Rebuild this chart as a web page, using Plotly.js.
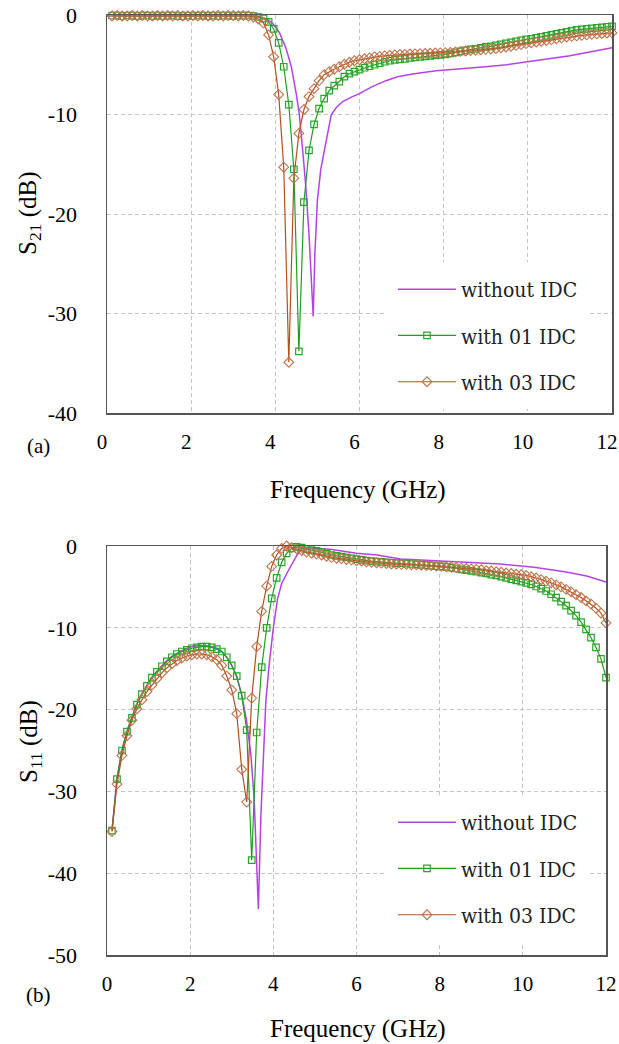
<!DOCTYPE html>
<html>
<head>
<meta charset="utf-8">
<script src="https://cdn.plot.ly/plotly-3.0.1.min.js"></script>
<style>html,body{margin:0;padding:0;background:#fff;}#chart{width:619px;height:1044px;}</style>
</head>
<body>
<div id="chart"></div>
<script>
// ---------- DATA ----------
const seriesNames = ["without IDC", "with 01 IDC", "with 03 IDC"];

const freq = [0.12,0.24,0.36,0.48,0.60,0.72,0.84,0.96,1.08,1.20,
  1.32,1.44,1.56,1.68,1.80,1.92,2.04,2.16,2.28,2.40,
  2.52,2.64,2.76,2.88,3.00,3.12,3.24,3.36,3.48,3.60,
  3.72,3.84,3.96,4.08,4.20,4.32,4.44,4.56,4.68,4.80,
  4.92,5.04,5.16,5.28,5.40,5.52,5.64,5.76,5.88,6.00,
  6.12,6.24,6.36,6.48,6.60,6.72,6.84,6.96,7.08,7.20,
  7.32,7.44,7.56,7.68,7.80,7.92,8.04,8.16,8.28,8.40,
  8.52,8.64,8.76,8.88,9.00,9.12,9.24,9.36,9.48,9.60,
  9.72,9.84,9.96,10.08,10.20,10.32,10.44,10.56,10.68,10.80,
  10.92,11.04,11.16,11.28,11.40,11.52,11.64,11.76,11.88,12.00];

// S21 (top)
const s21FreqNoIdc = [0,0.5,1.0,1.5,2.0,2.5,3.0,3.4,3.6,3.8,3.95,4.1,4.25,4.38,4.5,4.57,4.65,4.72,4.8,4.86,4.9,4.94,5.0,5.08,5.17,5.25,5.33,5.45,5.6,5.83,6.0,6.3,6.63,6.9,7.3,7.82,8.5,9.0,9.5,10.0,10.5,11.0,11.5,12.0];
const s21NoIdc = [-0.1,-0.1,-0.1,-0.05,-0.1,-0.05,-0.05,-0.05,-0.15,-0.4,-0.9,-1.8,-3.3,-5.2,-8.0,-10.0,-13.6,-17.0,-22.0,-26.5,-30.3,-24.0,-18.6,-15.5,-13.5,-11.6,-10.0,-9.3,-8.7,-8.2,-7.9,-7.2,-6.6,-6.2,-5.9,-5.6,-5.4,-5.2,-5.0,-4.7,-4.4,-4.1,-3.7,-3.3];
const s21Idc01 = [-0.05,-0.05,-0.1,-0.05,-0.05,-0.1,-0.05,-0.05,-0.1,-0.05,
  -0.1,-0.05,-0.05,-0.1,-0.1,-0.05,-0.1,-0.05,-0.05,-0.1,
  -0.05,-0.1,-0.05,-0.05,-0.1,-0.05,-0.05,-0.05,-0.1,-0.2,
  -0.35,-0.7,-1.4,-2.8,-5.2,-9.0,-15.5,-33.8,-18.8,-13.6,
  -11.0,-9.4,-8.4,-7.6,-7.1,-6.7,-6.2,-5.9,-5.7,-5.5,
  -5.3,-5.15,-5.0,-4.85,-4.7,-4.6,-4.5,-4.45,-4.4,-4.3,
  -4.25,-4.2,-4.15,-4.1,-4.05,-4.0,-3.95,-3.85,-3.75,-3.65,
  -3.55,-3.45,-3.4,-3.3,-3.2,-3.15,-3.05,-2.95,-2.85,-2.75,
  -2.65,-2.55,-2.45,-2.4,-2.3,-2.2,-2.1,-2.0,-1.9,-1.8,
  -1.7,-1.6,-1.5,-1.45,-1.4,-1.35,-1.3,-1.25,-1.2,-1.15];
const s21Idc03 = [-0.1,-0.05,-0.1,-0.1,-0.05,-0.1,-0.05,-0.1,-0.1,-0.05,
  -0.1,-0.05,-0.1,-0.05,-0.1,-0.1,-0.05,-0.1,-0.05,-0.1,
  -0.1,-0.05,-0.1,-0.05,-0.05,-0.1,-0.05,-0.1,-0.2,-0.4,
  -0.8,-2.0,-4.2,-8.0,-15.3,-34.9,-16.4,-11.9,-9.5,-8.2,
  -7.4,-6.6,-6.0,-5.7,-5.45,-5.2,-4.95,-4.75,-4.6,-4.5,
  -4.4,-4.3,-4.2,-4.15,-4.1,-4.05,-4.0,-3.97,-3.95,-3.92,
  -3.9,-3.88,-3.86,-3.84,-3.82,-3.8,-3.78,-3.75,-3.7,-3.66,
  -3.62,-3.58,-3.54,-3.5,-3.46,-3.42,-3.38,-3.3,-3.22,-3.14,
  -3.06,-2.98,-2.88,-2.8,-2.72,-2.64,-2.56,-2.48,-2.4,-2.3,
  -2.22,-2.15,-2.1,-2.05,-2.0,-1.95,-1.9,-1.86,-1.82,-1.8];

// S11 (bottom)
const s11FreqNoIdc = [0.12,0.24,0.36,0.48,0.60,0.72,0.84,0.96,1.08,1.20,1.32,1.44,1.56,1.68,1.80,1.92,2.04,2.16,2.28,2.40,2.52,2.64,2.76,2.88,3.00,3.12,3.24,3.36,3.46,3.54,3.60,3.64,3.70,3.76,3.82,3.90,4.00,4.10,4.20,4.33,4.45,4.57,4.69,4.80,5.00,5.37,6.00,6.50,7.06,7.86,8.67,9.47,10.27,11.08,11.56,12.00];
const s11NoIdc = [-34.8,-28.4,-24.9,-22.6,-20.9,-19.3,-18.0,-17.0,-16.0,-15.3,-14.6,-14.0,-13.5,-13.1,-12.8,-12.5,-12.3,-12.2,-12.15,-12.2,-12.3,-12.5,-12.9,-13.6,-14.6,-16.0,-18.2,-21.5,-25.5,-31.0,-38.5,-44.4,-33.0,-25.0,-19.0,-14.5,-10.0,-6.5,-4.6,-3.3,-2.1,-1.1,-0.3,-0.2,-0.3,-0.4,-0.9,-1.1,-1.6,-1.8,-2.0,-2.2,-2.6,-3.2,-3.7,-4.4];
const s11Idc01 = [-34.8,-28.5,-25.0,-22.7,-21.0,-19.4,-18.1,-17.1,-16.1,-15.4,
  -14.7,-14.1,-13.6,-13.2,-12.9,-12.7,-12.5,-12.4,-12.3,-12.3,
  -12.4,-12.6,-12.9,-13.6,-14.6,-15.9,-18.3,-22.5,-38.4,-22.8,
  -14.8,-10.0,-6.4,-3.9,-2.0,-0.9,-0.3,-0.1,-0.2,-0.4,
  -0.5,-0.6,-0.75,-0.95,-1.1,-1.2,-1.3,-1.4,-1.5,-1.6,
  -1.7,-1.8,-1.85,-1.9,-1.95,-2.0,-2.05,-2.1,-2.1,-2.15,
  -2.2,-2.25,-2.3,-2.35,-2.4,-2.45,-2.5,-2.55,-2.65,-2.75,
  -2.85,-2.95,-3.05,-3.15,-3.25,-3.35,-3.5,-3.6,-3.75,-3.9,
  -4.05,-4.2,-4.35,-4.5,-4.7,-4.95,-5.2,-5.5,-5.9,-6.3,
  -6.8,-7.3,-7.9,-8.5,-9.3,-10.2,-11.2,-12.4,-13.8,-16.1];
const s11Idc03 = [-34.9,-29.1,-25.6,-23.2,-21.3,-19.9,-18.8,-17.8,-17.0,-16.2,
  -15.5,-14.9,-14.4,-14.0,-13.7,-13.45,-13.3,-13.2,-13.2,-13.3,
  -13.55,-13.9,-14.6,-15.9,-17.6,-20.5,-27.3,-31.3,-18.6,-12.3,
  -8.0,-4.9,-2.5,-1.1,-0.3,0.0,-0.2,-0.35,-0.55,-0.75,
  -0.9,-1.0,-1.1,-1.25,-1.4,-1.5,-1.55,-1.65,-1.7,-1.8,
  -1.85,-1.95,-2.0,-2.05,-2.1,-2.15,-2.2,-2.2,-2.25,-2.25,
  -2.3,-2.3,-2.35,-2.4,-2.4,-2.45,-2.5,-2.55,-2.6,-2.65,
  -2.7,-2.75,-2.8,-2.85,-2.9,-3.0,-3.05,-3.15,-3.2,-3.3,
  -3.35,-3.45,-3.5,-3.6,-3.75,-3.9,-4.1,-4.3,-4.5,-4.75,
  -5.0,-5.3,-5.6,-5.95,-6.3,-6.7,-7.1,-7.6,-8.2,-9.4];

// ticks
const xTickVals = [0,2,4,6,8,10,12];
const xTickText = ["0","2","4","6","8","10","12"];
const yTickVals21 = [0,-10,-20,-30,-40];
const yTickText21 = ["0","-10","-20","-30","-40"];
const yTickVals11 = [0,-10,-20,-30,-40,-50];
const yTickText11 = ["0","-10","-20","-30","-40","-50"];

// ---------- STYLE ----------
const W = 619, H = 1044;
const fx = v => v / W;
const fy = v => 1 - v / H;
const SERIF = "Liberation Serif";
const LEGFONT = "DejaVu Serif Condensed";
const PURPLE = "#b443e6", GREEN = "#1f9f1f", BROWN = "#b4501e";

function traces(xa, ya, leg, fPurple, yPurple, yGreen, yBrown, tag) {
  return [
    {x: fPurple, y: yPurple, xaxis: xa, yaxis: ya, legend: leg, name: seriesNames[0],
     legendgroup: tag + "a", mode: "lines", line: {color: PURPLE, width: 1.5}},
    {x: freq, y: yGreen, xaxis: xa, yaxis: ya, legend: leg, name: seriesNames[1],
     legendgroup: tag + "b", mode: "lines+markers", cliponaxis: false,
     line: {color: GREEN, width: 1.2},
     marker: {symbol: "square-open", size: 6.5, color: "#2aa52a", line: {width: 1.2}}},
    {x: freq, y: yBrown, xaxis: xa, yaxis: ya, legend: leg, name: seriesNames[2],
     legendgroup: tag + "c", mode: "lines+markers", cliponaxis: false,
     line: {color: BROWN, width: 1.2},
     marker: {symbol: "diamond-open", size: 7.5, color: "#c0734a", line: {width: 1.1}}}
  ];
}

const data = [].concat(
  traces("x", "y", "legend", s21FreqNoIdc, s21NoIdc, s21Idc01, s21Idc03, "t"),
  traces("x2", "y2", "legend2", s11FreqNoIdc, s11NoIdc, s11Idc01, s11Idc03, "b")
);

const xCommon = {
  range: [0, 12], tickvals: xTickVals, ticktext: xTickText,
  showgrid: true, gridcolor: "#c4c4c4", griddash: "4px,3px", gridwidth: 1,
  showline: true, mirror: true, linecolor: "#555", linewidth: 1.5,
  ticks: "outside", ticklen: 9, tickcolor: "rgba(0,0,0,0)", ticklabeloverflow: "allow",
  tickfont: {family: SERIF, size: 21, color: "#000"}, zeroline: false, fixedrange: true
};
const yCommon = {
  showgrid: true, gridcolor: "#c4c4c4", griddash: "4px,3px", gridwidth: 1,
  showline: true, mirror: true, linecolor: "#555", linewidth: 1.5,
  ticks: "outside", ticklen: 24, tickcolor: "rgba(0,0,0,0)",
  tickfont: {family: SERIF, size: 22, color: "#000"}, zeroline: false, fixedrange: true
};

const legCommon = {
  xanchor: "left", yanchor: "top", bgcolor: "#fff", bordercolor: "#fff", borderwidth: 7,
  itemwidth: 58, font: {family: LEGFONT, size: 21, color: "#222"}, tracegroupgap: 16
};

const layout = {
  width: W, height: H, margin: {l: 0, r: 0, t: 0, b: 0},
  font: {family: SERIF, size: 20, color: "#000"},
  paper_bgcolor: "#fff", plot_bgcolor: "#fff", showlegend: true,
  xaxis: Object.assign({}, xCommon, {domain: [fx(107), fx(612)], anchor: "y", ticklabelshift: -5}),
  yaxis: Object.assign({}, yCommon, {domain: [fy(413), fy(15)], anchor: "x", range: [-40, 0],
    tickvals: yTickVals21, ticktext: yTickText21}),
  xaxis2: Object.assign({}, xCommon, {domain: [fx(107), fx(606)], anchor: "y2"}),
  yaxis2: Object.assign({}, yCommon, {domain: [fy(955), fy(546)], anchor: "x2", range: [-50, 0],
    tickvals: yTickVals11, ticktext: yTickText11}),
  legend: Object.assign({}, legCommon, {x: fx(386), y: fy(262)}),
  legend2: Object.assign({}, legCommon, {x: fx(386), y: fy(795)}),
  annotations: [
    {text: "S<sub>21</sub> (dB)", xref: "paper", yref: "paper", x: fx(30), y: fy(214), textangle: -90,
     showarrow: false, font: {family: SERIF, size: 25, color: "#000"}, xanchor: "center", yanchor: "middle"},
    {text: "S<sub>11</sub> (dB)", xref: "paper", yref: "paper", x: fx(30), y: fy(742), textangle: -90,
     showarrow: false, font: {family: SERIF, size: 25, color: "#000"}, xanchor: "center", yanchor: "middle"},
    {text: "Frequency (GHz)", xref: "paper", yref: "paper", x: fx(358), y: fy(490),
     showarrow: false, font: {family: SERIF, size: 25, color: "#000"}, xanchor: "center", yanchor: "middle"},
    {text: "Frequency (GHz)", xref: "paper", yref: "paper", x: fx(358), y: fy(1029),
     showarrow: false, font: {family: SERIF, size: 25, color: "#000"}, xanchor: "center", yanchor: "middle"},
    {text: "(a)", xref: "paper", yref: "paper", x: fx(38), y: fy(446),
     showarrow: false, font: {family: SERIF, size: 21, color: "#000"}, xanchor: "center", yanchor: "middle"},
    {text: "(b)", xref: "paper", yref: "paper", x: fx(38), y: fy(995),
     showarrow: false, font: {family: SERIF, size: 21, color: "#000"}, xanchor: "center", yanchor: "middle"}
  ]
};

Plotly.newPlot("chart", data, layout, {displayModeBar: false, staticPlot: true});
</script>
</body>
</html>
